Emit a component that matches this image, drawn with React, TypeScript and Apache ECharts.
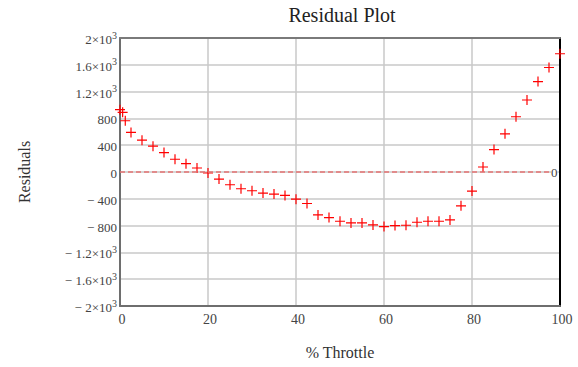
import React, { useEffect, useRef } from "react";
import * as echarts from "echarts";

// Throttle setting (%) for each sample
const throttle = [
  0, 0.6, 1.2, 2.5, 5, 7.5, 10, 12.5, 15, 17.5, 20, 22.5, 25, 27.5, 30, 32.5,
  35, 37.5, 40, 42.5, 45, 47.5, 50, 52.5, 55, 57.5, 60, 62.5, 65, 67.5, 70,
  72.5, 75, 77.5, 80, 82.5, 85, 87.5, 90, 92.5, 95, 97.5, 100,
];

// Residual of the fit at each throttle setting
const residuals = [
  930, 890, 765, 590, 475, 385, 290, 190, 125, 60, -15, -105, -190, -250,
  -280, -315, -330, -350, -405, -470, -640, -680, -735, -760, -760, -790,
  -815, -800, -795, -750, -735, -735, -715, -505, -285, 75, 335, 570, 825,
  1075, 1350, 1560, 1765,
];

const xTicks = [0, 20, 40, 60, 80, 100];
const yMin = -2000;
const yMax = 2000;
const yStep = 400;

const SERIF = "Liberation Serif";
const LABEL = "#444";
const PLUS =
  "path://M4.4,0h1.2v4.4h4.4v1.2h-4.4v4.4h-1.2v-4.4h-4.4v-1.2h4.4z";

// Mathcad-style tick text: 1.2×10³, "− 400"
function yLabel(v: number): string {
  if (v === 0) return "{n|0}";
  const sign = v < 0 ? "− " : "";
  const a = Math.abs(v);
  if (a >= 1000) {
    const m = +(a / 1000).toFixed(1);
    return `{n|${sign}${m}×10}{s|3}`;
  }
  return `{n|${sign}${a}}`;
}

export default function App() {
  const ref = useRef<HTMLDivElement>(null);

  useEffect(() => {
    if (!ref.current) return;
    document.body.style.margin = "0";
    const chart = echarts.init(ref.current, undefined, { renderer: "svg" });
    const points = throttle.map((x, i) => [x, residuals[i]]);

    chart.setOption({
      animation: false,
      backgroundColor: "#ffffff",
      textStyle: { fontFamily: SERIF },
      title: {
        text: "Residual Plot",
        left: 337,
        textAlign: "center",
        top: 0,
        textStyle: {
          fontFamily: SERIF,
          fontWeight: "normal",
          fontSize: 20,
          color: "#222",
        },
      },
      grid: { left: 120, right: 18, top: 38, bottom: 61 },
      xAxis: [
        {
          type: "value",
          min: 0,
          max: 100,
          interval: 20,
          position: "bottom",
          name: "% Throttle",
          nameLocation: "middle",
          nameGap: 38,
          nameTextStyle: { fontFamily: SERIF, fontSize: 16, color: "#333" },
          axisLine: {
            show: true,
            onZero: false,
            lineStyle: { color: "#6e6e6e", width: 2 },
          },
          axisTick: { show: false },
          axisLabel: {
            fontFamily: SERIF,
            fontSize: 14,
            color: LABEL,
            margin: 6,
            padding: [0, 0, 0, 4],
            formatter: (v: number) => (xTicks.includes(v) ? String(v) : ""),
          },
          splitLine: { show: true, lineStyle: { color: "#c8c8c8", width: 1.5 } },
        },
        {
          type: "value",
          min: 0,
          max: 100,
          position: "top",
          axisLine: {
            show: true,
            onZero: false,
            lineStyle: { color: "#7a7a7a", width: 2 },
          },
          axisTick: { show: false },
          axisLabel: { show: false },
          splitLine: { show: false },
        },
      ],
      yAxis: [
        {
          type: "value",
          min: yMin,
          max: yMax,
          interval: yStep,
          position: "left",
          name: "Residuals",
          nameLocation: "middle",
          nameGap: 88,
          nameRotate: 90,
          nameTextStyle: { fontFamily: SERIF, fontSize: 16, color: "#333" },
          axisLine: {
            show: true,
            onZero: false,
            lineStyle: { color: "#6e6e6e", width: 2 },
          },
          axisTick: { show: false },
          axisLabel: {
            margin: 3,
            fontFamily: SERIF,
            formatter: yLabel,
            rich: {
              n: {
                fontFamily: SERIF,
                fontSize: 13,
                color: LABEL,
                lineHeight: 16,
                verticalAlign: "bottom",
              },
              s: {
                fontFamily: SERIF,
                fontSize: 10,
                color: LABEL,
                lineHeight: 16,
                verticalAlign: "top",
                padding: [0, 0, 9, 0],
              },
            },
          },
          splitLine: { show: true, lineStyle: { color: "#c8c8c8", width: 1.5 } },
        },
        {
          type: "value",
          min: yMin,
          max: yMax,
          position: "right",
          axisLine: {
            show: true,
            onZero: false,
            lineStyle: { color: "#000", width: 2 },
          },
          axisTick: { show: false },
          axisLabel: { show: false },
          splitLine: { show: false },
        },
      ],
      series: [
        {
          type: "scatter",
          xAxisIndex: 0,
          yAxisIndex: 0,
          data: points,
          symbol: PLUS,
          symbolSize: 10,
          clip: true,
          itemStyle: { color: "#ff0000", opacity: 1 },
          markLine: {
            silent: true,
            symbol: ["none", "none"],
            lineStyle: { color: "#e57373", type: [5, 3], width: 1.5 },
            label: {
              show: true,
              position: "end",
              distance: -9,
              formatter: "0",
              fontFamily: SERIF,
              fontSize: 13,
              color: LABEL,
              backgroundColor: "#fff",
            },
            data: [{ yAxis: 0 }],
          },
        },
      ],
    });

    return () => chart.dispose();
  }, []);

  return <div ref={ref} style={{ width: 578, height: 367 }} />;
}
